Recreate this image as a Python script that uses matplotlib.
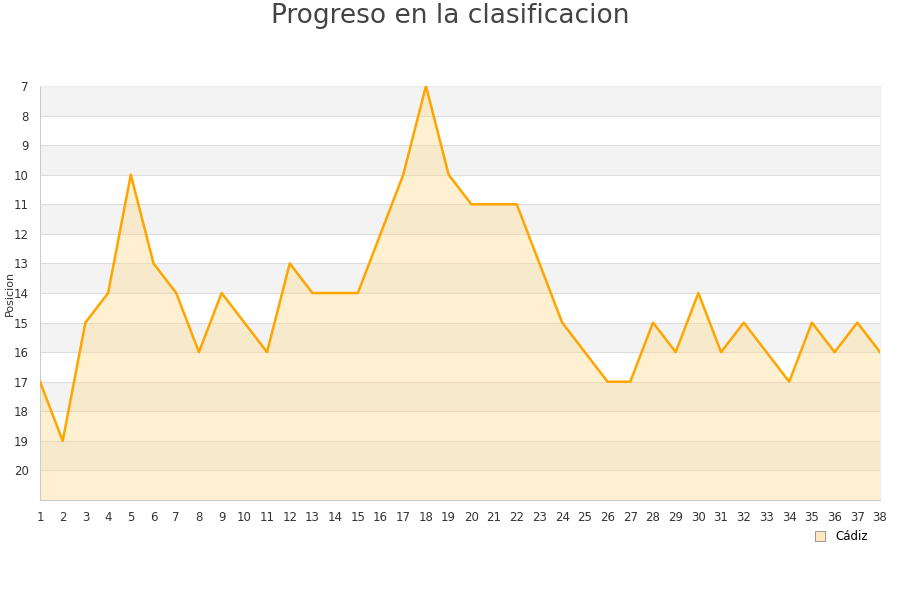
import matplotlib
matplotlib.use("Agg")
import matplotlib.pyplot as plt
from matplotlib.lines import Line2D

jornadas = list(range(1, 39))
posiciones = [17, 19, 15, 14, 10, 13, 14, 16, 14, 15, 16, 13, 14, 14, 14, 12, 10, 7, 10, 11,
              11, 11, 13, 15, 16, 17, 17, 15, 16, 14, 16, 15, 16, 17, 15, 16, 15, 16]
y_ticks = list(range(7, 21))
team = "Cádiz"
title = "Progreso en la clasificacion"
ylabel = "Posicion"

fig = plt.figure(figsize=(9, 6), dpi=100)
ax = fig.add_axes([40/900, 1-500/600, 840/900, 414/600])

ymin, ymax = 7, 21
for b in range(7, 21, 2):
    ax.axhspan(b, b+1, color="#f3f3f3", zorder=0, lw=0)
for t in range(7, 22):
    ax.axhline(t, color="#dddddd", lw=0.8, zorder=1)

ax.fill_between(jornadas, posiciones, ymax, color="#FFD98A", alpha=0.38, lw=0, zorder=2)
ax.plot(jornadas, posiciones, color="#FFA500", lw=1.8, zorder=3)

ax.set_xlim(1, 38)
ax.set_ylim(ymax, ymin)
ax.set_xticks(jornadas)
ax.set_yticks(y_ticks)
ax.tick_params(axis="both", length=0, labelsize=8.5, labelcolor="#333333")
ax.tick_params(axis="x", pad=8)
ax.tick_params(axis="y", pad=8)
for s in ["left", "bottom"]:
    ax.spines[s].set_color("#cccccc")
for s in ["top", "right"]:
    ax.spines[s].set_color("#eeeeee")

fig.text(10/900, 1-293/600, ylabel, rotation=90, ha="center", va="center",
         fontsize=8, color="#333333")
fig.text(0.5, 1-16/600, title, ha="center", va="center", fontsize=19, color="#444444")

handle = Line2D([], [], marker="s", ls="none", markersize=7, markerfacecolor="#FFE8C0",
                markeredgecolor="#888888", markeredgewidth=0.6)
fig.legend([handle], [team], loc="center", bbox_to_anchor=(838/900, 1-537/600),
           frameon=False, fontsize=8.5, handletextpad=0.3, borderpad=0.2)

fig.savefig("out.png", dpi=100)
